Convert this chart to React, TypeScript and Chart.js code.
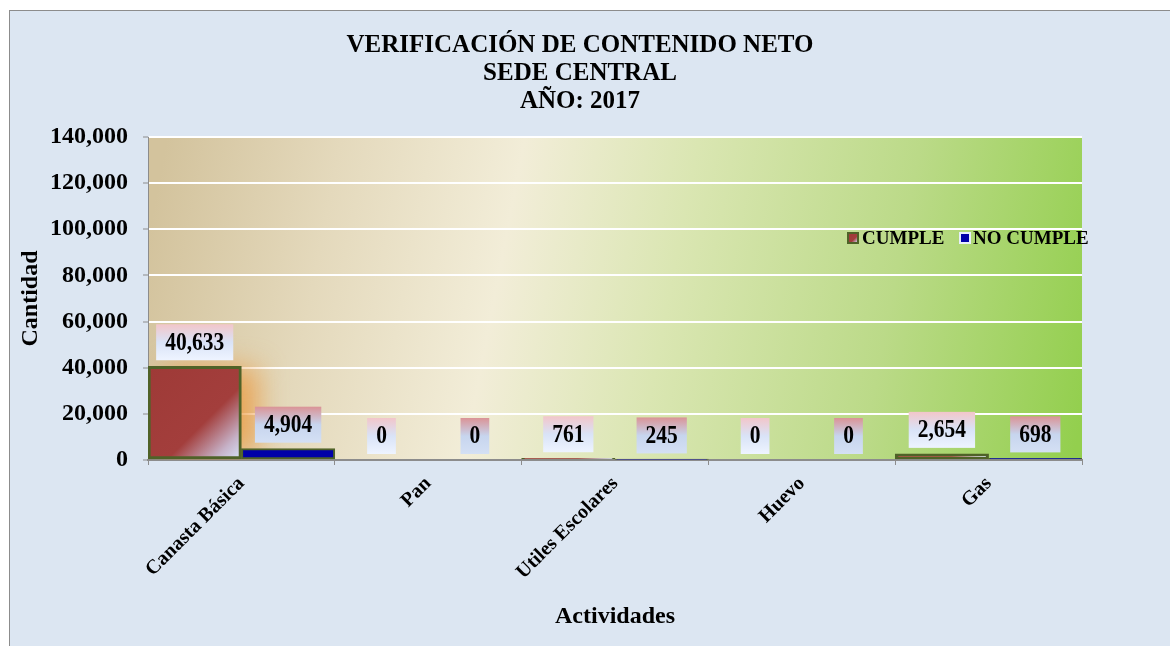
import React, { useEffect, useRef } from "react";
import { Chart, registerables } from "chart.js";

Chart.register(...registerables);

const categories = ["Canasta Básica", "Pan", "Utiles Escolares", "Huevo", "Gas"];
const cumple = [40633, 0, 761, 0, 2654];
const noCumple = [4904, 0, 245, 0, 698];
const seriesNames = ["CUMPLE", "NO CUMPLE"];
const titleLines = ["VERIFICACIÓN DE CONTENIDO NETO", "SEDE CENTRAL", "AÑO: 2017"];
const yMax = 140000;
const yStep = 20000;

const SERIF = '"Liberation Serif", "Times New Roman", serif';

function cumpleGradient(ctx: CanvasRenderingContext2D, x0: number, y0: number, x1: number, y1: number) {
  const g = ctx.createLinearGradient(x0, y0, x1, y1);
  g.addColorStop(0, "#9E3A37");
  g.addColorStop(0.6, "#A33E3C");
  g.addColorStop(0.85, "#C6B2C8");
  g.addColorStop(1, "#D8E5FC");
  return g;
}

const framePlugin = {
  id: "framePlugin",
  beforeDraw(chart: any) {
    const { ctx, chartArea, width, height } = chart;
    ctx.save();
    ctx.fillStyle = "#FFFFFF";
    ctx.fillRect(0, 0, width, height);
    ctx.fillStyle = "#DCE6F2";
    ctx.fillRect(9, 10, width, height);
    ctx.strokeStyle = "#8C8C8C";
    ctx.lineWidth = 1;
    ctx.strokeRect(9.5, 10.5, width + 20, height + 20);
    if (chartArea) {
      const { left, right, top, bottom } = chartArea;
      const w = right - left;
      const g = ctx.createLinearGradient(left, top + 100, right, top + 100 + w * 0.19);
      g.addColorStop(0, "#D3C39D");
      g.addColorStop(0.18, "#E4D9BC");
      g.addColorStop(0.37, "#F2EDD8");
      g.addColorStop(0.55, "#DAE6B2");
      g.addColorStop(0.78, "#BBDA88");
      g.addColorStop(1, "#93CF4E");
      ctx.fillStyle = g;
      ctx.fillRect(left, top, w, bottom - top);
    }
    ctx.restore();
  },
  beforeDatasetsDraw(chart: any) {
    // soft orange glow to the right of tall CUMPLE bars
    const { ctx, chartArea } = chart;
    const meta = chart.getDatasetMeta(0);
    ctx.save();
    ctx.beginPath();
    ctx.rect(chartArea.left, chartArea.top, chartArea.right - chartArea.left, chartArea.bottom - chartArea.top);
    ctx.clip();
    meta.data.forEach((el: any) => {
      const h = el.base - el.y;
      if (h < 20) return;
      const w = el.width;
      ctx.filter = "blur(14px)";
      ctx.fillStyle = "rgba(236,150,55,0.75)";
      ctx.fillRect(el.x - w / 2 + 16, el.y + 2, w, h - 8);
      ctx.filter = "none";
    });
    ctx.restore();
  },
  afterDatasetsDraw(chart: any) {
    const { ctx } = chart;
    const sx = 0.86;
    ctx.save();
    ctx.font = `bold 25px ${SERIF}`;
    ctx.textAlign = "center";
    ctx.textBaseline = "middle";
    chart.data.datasets.forEach((ds: any, di: number) => {
      const meta = chart.getDatasetMeta(di);
      meta.data.forEach((el: any, i: number) => {
        const v = ds.data[i];
        const text = v.toLocaleString("en-US");
        const tw = ctx.measureText(text).width * sx;
        const bw = tw + 18;
        const bh = 36;
        const bx = el.x - bw / 2;
        const by = el.y - 6 - bh;
        const g = ctx.createLinearGradient(0, by, 0, by + bh);
        if (di === 0) {
          g.addColorStop(0, "#F2C6CA");
          g.addColorStop(0.5, "#D9E3F7");
          g.addColorStop(1, "#EEF4FF");
        } else {
          g.addColorStop(0, "#DA9396");
          g.addColorStop(0.5, "#C7D5EE");
          g.addColorStop(1, "#D4E0F4");
        }
        ctx.fillStyle = g;
        ctx.fillRect(bx, by, bw, bh);
        ctx.fillStyle = "#000000";
        ctx.save();
        ctx.translate(el.x, by + bh / 2 + 1);
        ctx.scale(sx, 1);
        ctx.fillText(text, 0, 0);
        ctx.restore();
      });
    });
    ctx.restore();
  },
  afterDraw(chart: any) {
    const { ctx, chartArea } = chart;
    ctx.save();
    ctx.font = `bold 19px ${SERIF}`;
    ctx.textBaseline = "middle";
    ctx.textAlign = "left";
    const cy = chartArea.top + 101;
    let x = chartArea.right - 234;
    ctx.fillStyle = cumpleGradient(ctx, x, cy - 5, x + 10, cy + 5);
    ctx.fillRect(x, cy - 5, 10, 10);
    ctx.strokeStyle = "#4F6228";
    ctx.lineWidth = 2;
    ctx.strokeRect(x, cy - 5, 10, 10);
    ctx.fillStyle = "#000";
    ctx.fillText(seriesNames[0], x + 14, cy + 1);
    x += 112;
    ctx.fillStyle = "#0000A8";
    ctx.fillRect(x, cy - 5, 10, 10);
    ctx.strokeStyle = "#E6EEFA";
    ctx.lineWidth = 2;
    ctx.strokeRect(x, cy - 5, 10, 10);
    ctx.fillStyle = "#000";
    ctx.fillText(seriesNames[1], x + 13, cy + 1);
    ctx.restore();
  },
};

export default function App() {
  const ref = useRef<HTMLCanvasElement | null>(null);
  useEffect(() => {
    if (!ref.current) return;
    const chart = new Chart(ref.current, {
      type: "bar",
      data: {
        labels: categories,
        datasets: [
          {
            label: seriesNames[0],
            data: cumple,
            backgroundColor: (c: any) => {
              const ch = c.chart;
              const ca = ch.chartArea;
              if (!ca || c.type !== "data") return "#A03C3A";
              const xs = ch.scales.x;
              const ys = ch.scales.y;
              const cw = (ca.right - ca.left) / categories.length;
              const cx = xs.getPixelForValue(c.dataIndex);
              const x0 = cx - cw / 2;
              const x1 = cx;
              const y0 = ys.getPixelForValue(c.raw);
              const y1 = ys.getPixelForValue(0);
              return cumpleGradient(ch.ctx, x0, y0, x1, Math.max(y1, y0 + 1));
            },
            borderColor: "#4F6228",
            borderWidth: 3,
            borderSkipped: false,
          },
          {
            label: seriesNames[1],
            data: noCumple,
            backgroundColor: "#0000A8",
            borderColor: "#4F6228",
            borderWidth: 2,
            borderSkipped: false,
          },
        ],
      },
      options: {
        responsive: false,
        animation: false,
        layout: { padding: { top: 18, left: 0, right: 10, bottom: 10 } },
        datasets: { bar: { barPercentage: 1, categoryPercentage: 1 } },
        plugins: {
          legend: { display: false },
          tooltip: { enabled: false },
          title: {
            display: true,
            text: titleLines,
            color: "#000",
            font: { family: SERIF, size: 25, weight: "bold", lineHeight: 28 / 25 },
            padding: { top: 14, bottom: 21 },
          },
        },
        scales: {
          x: {
            grid: { drawOnChartArea: false, drawTicks: true, tickLength: 5, tickColor: "#8C8C8C", offset: true },
            border: { color: "#8C8C8C", width: 2 },
            ticks: {
              color: "#000",
              font: { family: SERIF, size: 20, weight: "bold" },
              minRotation: 45,
              maxRotation: 45,
              autoSkip: false,
              padding: 7,
            },
            title: {
              display: true,
              text: "Actividades",
              color: "#000",
              font: { family: SERIF, size: 24, weight: "bold" },
              padding: { top: 0, bottom: 5 },
            },
            afterFit: (s: any) => {
              s.height = 176;
            },
          },
          y: {
            min: 0,
            max: yMax,
            ticks: {
              stepSize: yStep,
              color: "#000",
              font: { family: SERIF, size: 24, weight: "bold" },
              padding: 15,
            },
            grid: { color: "#FFFFFF", lineWidth: 2, tickColor: "#8C8C8C", tickWidth: 1, tickLength: 5 },
            border: { color: "#8C8C8C", width: 1 },
            title: {
              display: true,
              text: "Cantidad",
              color: "#000",
              font: { family: SERIF, size: 24, weight: "bold" },
              padding: { top: 16, bottom: 0 },
            },
            afterFit: (s: any) => {
              s.width = 148;
            },
          },
          y2: {
            type: "linear",
            position: "right",
            display: true,
            grid: { display: false, drawTicks: false },
            ticks: { display: false },
            border: { display: false },
            afterFit: (s: any) => {
              s.width = 78;
            },
          },
        },
      },
      plugins: [framePlugin],
    } as any);
    return () => chart.destroy();
  }, []);
  return (
    <canvas
      ref={ref}
      width={1170}
      height={646}
      style={{ position: "fixed", left: 0, top: 0, width: 1170, height: 646, display: "block" }}
    />
  );
}
